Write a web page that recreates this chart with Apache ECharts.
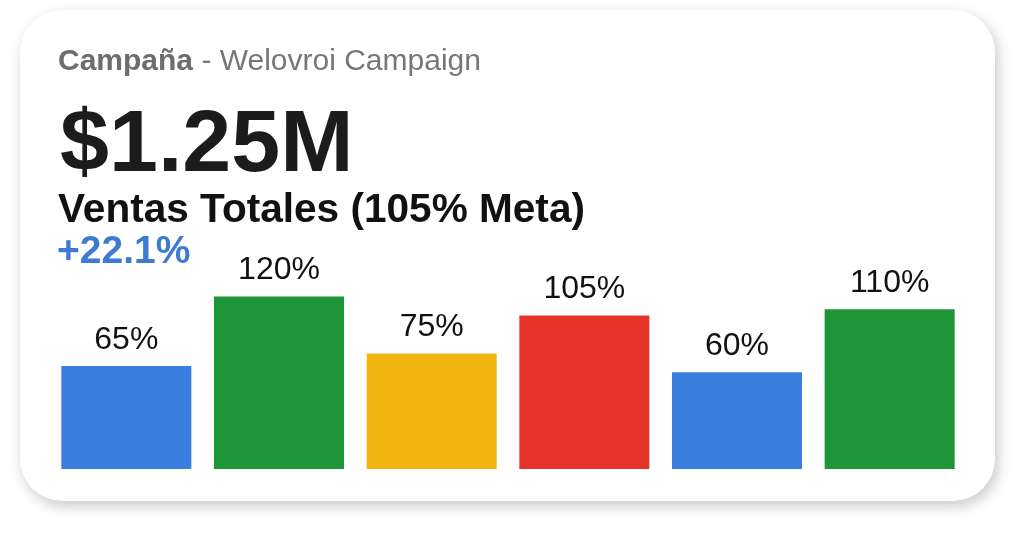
<!DOCTYPE html>
<html>
<head>
<meta charset="utf-8">
<script src="https://cdn.jsdelivr.net/npm/echarts@6/dist/echarts.min.js"></script>
<style>
html,body{margin:0;padding:0;background:#fff;}
#chart{width:1024px;height:547px;}
</style>
</head>
<body>
<div id="chart"></div>
<script>
const categories = ['C1', 'C2', 'C3', 'C4', 'C5', 'C6'];
const values = [65, 120, 75, 105, 60, 110];
const barColors = ['#3a7ee0', '#1e9637', '#f2b411', '#e7332a', '#3a7ee0', '#1e9637'];
const titleBold = 'Campaña';
const titleRest = ' - Welovroi Campaign';
const bigValue = '$1.25M';
const subtitle = 'Ventas Totales (105% Meta)';
const delta = '+22.1%';

const FONT = "'Liberation Sans', Arial, Helvetica, sans-serif";
const Y_MIN = -16.6;
const Y_MAX = 130;
const chart = echarts.init(document.getElementById('chart'));
chart.setOption({
  backgroundColor: '#ffffff',
  animation: false,
  grid: { left: 50, right: 58, top: 284, bottom: 78, containLabel: false },
  xAxis: { type: 'category', data: categories, show: false },
  yAxis: { type: 'value', min: Y_MIN, max: Y_MAX, show: false, splitLine: { show: false } },
  graphic: [
    {
      type: 'rect', z: 0,
      shape: { x: 20, y: 10, width: 975, height: 491, r: 42 },
      style: { fill: '#ffffff', shadowBlur: 14, shadowColor: 'rgba(0,0,0,0.22)', shadowOffsetX: 3, shadowOffsetY: 5 }
    },
    {
      type: 'text', z: 100, left: 58, top: 47,
      style: {
        text: '{b|' + titleBold + '}{r|' + titleRest + '}',
        rich: {
          b: { fontFamily: FONT, fontSize: 30, fontWeight: 'bold', fill: '#6d6d6d', lineHeight: 30 },
          r: { fontFamily: FONT, fontSize: 30, fontWeight: 'normal', fill: '#777777', lineHeight: 30 }
        }
      }
    },
    {
      type: 'text', z: 100, left: 60, top: 103,
      style: { text: bigValue, fontFamily: FONT, fontSize: 88, fontWeight: 'bold', fill: '#1c1c1c' }
    },
    {
      type: 'text', z: 100, left: 58, top: 190,
      style: { text: subtitle, fontFamily: FONT, fontSize: 40.6, fontWeight: 'bold', fill: '#111111' }
    },
    {
      type: 'text', z: 100, left: 57, top: 233,
      style: { text: delta, fontFamily: FONT, fontSize: 39, fontWeight: 'bold', fill: '#3d7bd2' }
    }
  ],
  series: [{
    type: 'custom',
    z: 5,
    data: values.map((v, i) => [i, v]),
    encode: { x: 0, y: 1 },
    renderItem: function (params, api) {
      const i = api.value(0);
      const v = api.value(1);
      const top = api.coord([i, v]);
      const base = api.coord([i, Y_MIN]);
      const w = 130;
      return {
        type: 'group',
        children: [
          {
            type: 'rect',
            shape: { x: top[0] - w / 2, y: top[1], width: w, height: base[1] - top[1] },
            style: { fill: barColors[i] }
          },
          {
            type: 'text',
            style: {
              text: v + '%', x: top[0], y: top[1] - 10,
              align: 'center', verticalAlign: 'bottom',
              font: 'normal 32px ' + FONT, fill: '#111111'
            }
          }
        ]
      };
    }
  }]
});
</script>
</body>
</html>
